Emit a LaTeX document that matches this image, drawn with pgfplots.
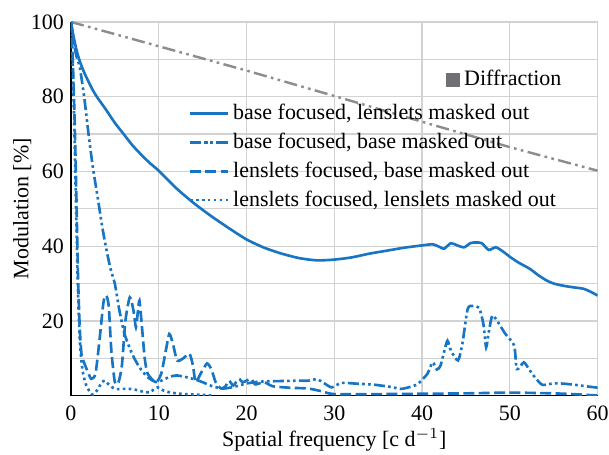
\documentclass[border=0pt]{standalone}
\usepackage{fontspec}
\setmainfont{Liberation Serif}
\usepackage{pgfplots}
\pgfplotsset{compat=1.18}
\usetikzlibrary{calc}
\definecolor{mblue}{RGB}{24,117,196}
\definecolor{dgray}{RGB}{140,140,140}
\definecolor{sqgray}{RGB}{112,112,116}
\definecolor{gridc}{RGB}{210,210,210}
\begin{document}
\begin{tikzpicture}
\pgfplotsset{
  every axis/.append style={
    scale only axis, width=239.6pt, height=170pt,
    xmin=0, xmax=60, ymin=0, ymax=100,
  }
}
\begin{axis}[
  axis lines=left,
  axis line style={-, black, line width=0.7pt},
  xtick={0,10,...,60},
  ytick={20,40,60,80,100},
  minor ytick={10,30,50,70,90},
  major tick length=0pt, minor tick length=0pt,
  xmajorgrids, ymajorgrids, yminorgrids,
  grid style={gridc, line width=0.6pt},
  minor grid style={gridc, line width=0.6pt},
  /pgf/number format/assume math mode=true,
  xticklabel style={anchor=center, yshift=-8pt, inner sep=0pt},
  yticklabel style={anchor=east, xshift=-3pt, inner sep=0pt},
  xlabel={Spatial frequency [c d$^{-1}$]},
  xlabel style={at={(axis description cs:0.5,-0.118)}, anchor=center, inner sep=0pt},
  ylabel={Modulation [\%]},
  ylabel style={at={(axis description cs:-0.0925,0.5)}, anchor=center, inner sep=0pt},
  legend style={at={(0.21,0.805)}, anchor=north west, draw=none, fill=none,
    row sep=0.6pt, font=\normalsize},
  legend cell align=left,
  every axis plot/.append style={line width=1.2pt},
]
\addplot[dgray, line width=1.1pt, dash pattern=on 6pt off 2pt on 1.2pt off 2pt on 1.2pt off 2pt, forget plot] coordinates {
(0,100)(10,93.5)(20,87)(30,80.2)(40,73.3)(50,66.5)(60,60.2)
};
\addplot[mblue, smooth, tension=0.4] coordinates {
(0,100)(0.3,96)(0.64,92.4)(1,89.5)(1.5,86.5)(2,84)(2.5,81.7)(3,79.8)(4,76.5)(5,73)(6,70)(7,67)(8,64.5)(9,62.2)(10,60.2)(12,55.5)(14,51.5)(16,48)(18,44.8)(20,41.8)(22,39.6)(24,38)(26,36.8)(28,36.2)(30,36.4)(32,37)(34,38)(36,38.8)(38,39.6)(40,40.2)(41.2,40.5)(42,39.8)(42.5,39.3)(43.3,40.8)(44,40.2)(44.8,39.7)(45.5,40.8)(46.1,41.0)(46.8,40.8)(47.6,39.0)(48.4,39.7)(49.2,38.6)(50.1,37.0)(51,35.6)(52.3,33.9)(53.2,32.3)(54.2,30.8)(55,30)(56.1,29.4)(57.2,29)(58.4,28.6)(59.2,27.8)(60,26.8)
};
\addlegendentry{base focused, lenslets masked out}
\addplot[mblue, smooth, tension=0.4, dash pattern=on 5pt off 1.5pt on 1.2pt off 1.5pt on 1.2pt off 1.5pt] coordinates {
(0,100)(0.3,95)(0.6,91)(1,87.9)(1.5,80)(2,70)(2.5,61)(3.1,52.2)(3.5,46)(4,39.5)(4.5,34)(5,29.9)(5.5,23)(6.1,16.5)(7,11)(7.8,7.6)(8.7,5)(9.7,3.6)(10.5,4.2)(11.2,5)(12,5.4)(13,5)(14,4.4)(15,3.6)(16,2.6)(17.3,1.9)(18.5,2.3)(19.9,3.2)(21,3.6)(22,3.8)(24,3.9)(26,4)(27.1,4)(28,4.4)(28.8,3.4)(29.7,2.2)(30.8,3.4)(32.5,3.2)(34.6,2.9)(36.5,2.3)(37.6,1.8)(38.6,2.3)(39.5,3.1)(40.6,5.8)(41.2,8.9)(41.7,7)(42.1,8)(42.5,11.6)(42.9,14.7)(43.3,12)(44.1,9.4)(44.6,14)(45.2,23.2)(45.8,24)(46.5,23.5)(47,19)(47.3,12.9)(47.6,17)(48.0,21.4)(48.5,20.2)(49.5,16.5)(50.5,13.4)(50.8,7.1)(51.6,8.9)(52.2,7)(53,4.5)(53.7,2.9)(54.5,3.1)(55.4,3.3)(57,3)(59.7,2.2)(60,2.2)
};
\addlegendentry{base focused, base masked out}
\addplot[mblue, smooth, tension=0.4, dash pattern=on 5pt off 2pt] coordinates {
(0,100)(0.2,90)(0.4,75)(0.6,55)(0.8,32)(1.0,18)(1.2,11)(1.4,9.4)(1.8,7)(2.3,4.5)(2.8,6)(3.3,16)(3.7,25)(4.0,26.8)(4.3,24)(4.6,12)(5,3.6)(5.4,3.5)(5.8,8)(6.2,20)(6.7,26.3)(7.1,23)(7.4,18.3)(7.6,22)(7.8,25.4)(8.1,18)(8.4,10)(8.75,5.8)(9.7,3.6)(10.3,6)(10.8,12)(11.2,16.5)(11.6,14)(12.1,9.4)(12.8,10)(13.5,11.2)(13.9,8)(14.2,3.6)(14.8,6)(15.5,8.6)(16,7)(16.5,3.5)(17.1,1.9)(17.6,2.5)(18.0,4.0)(18.5,2.7)(19.1,4.5)(19.6,3.6)(20.5,4.5)(21,3)(22,3.6)(23,2.5)(25,2.1)(27,1.9)(28.5,1.2)(30,0.4)(35,0.4)(40,0.5)(45,0.6)(50,0.8)(55,0.6)(58,0.3)(60,0)
};
\addlegendentry{lenslets focused, base masked out}
\addplot[mblue, smooth, tension=0.4, dash pattern=on 1.2pt off 1.5pt] coordinates {
(0,100)(0.2,88)(0.4,70)(0.6,48)(0.8,28)(1.0,15)(1.3,7)(1.7,3)(2.2,0.8)(2.5,0.3)(3.0,1.5)(3.5,3.5)(3.85,4)(4.3,3)(5,1.8)(6,1.8)(6.7,1.8)(7.5,1.5)(8.3,1)(9,0.9)(9.5,1.8)(9.9,2.2)(10.5,1.4)(11.2,0.9)(12,0.6)(13,0.4)(15,0.2)(16,0)
};
\addlegendentry{lenslets focused, lenslets masked out}
\end{axis}
\begin{axis}[
  hide axis,
  legend style={at={(0.70,0.845)}, anchor=west, draw=none, fill=none, font=\normalsize},
]
\addlegendimage{only marks, mark=square*, mark size=3pt, sqgray, draw=sqgray}
\addlegendentry{Diffraction}
\end{axis}
\path ($(current axis.south west)+(-32.3pt,-26.8pt)$) rectangle ($(current axis.north east)+(5.2pt,10pt)$);
\end{tikzpicture}
\end{document}
